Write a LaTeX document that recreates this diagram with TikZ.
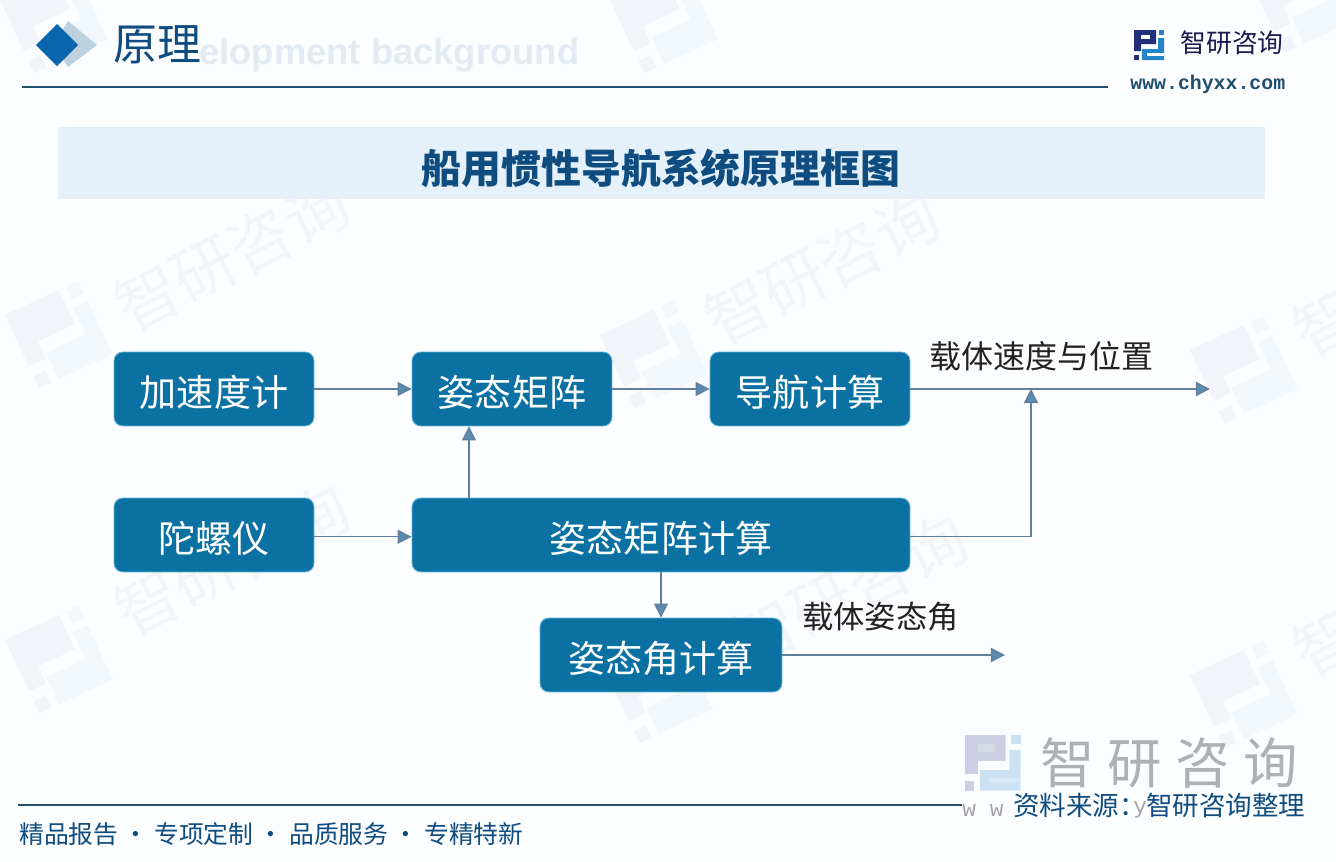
\documentclass[tikz,border=0pt]{standalone}
\usepackage{fontspec}
\setmainfont{Noto Sans CJK SC}
\newfontfamily\urlfont{Liberation Mono}
\newfontfamily\ghostfont{Liberation Sans}
\usetikzlibrary{arrows.meta,positioning,calc}
\definecolor{boxblue}{HTML}{0B71A3}
\definecolor{boxedge}{HTML}{5FB4D8}
\definecolor{linkblue}{HTML}{5F7F9F}
\definecolor{headblue}{HTML}{5B8CB0}
\definecolor{rulenavy}{HTML}{1F4F6E}
\definecolor{titlenavy}{HTML}{0F4C7F}
\definecolor{bandblue}{HTML}{E4F1FA}
\definecolor{pagetint}{HTML}{FCFDFF}
\definecolor{markdark}{HTML}{1F2F7A}
\definecolor{marklight}{HTML}{2385C8}
\definecolor{darktext}{HTML}{222222}
\tikzset{
  blockbox/.style={draw=boxedge, line width=0.5pt, fill=boxblue, rounded corners=5pt, text=white,
    minimum height=42.1pt, inner sep=0pt, text height=20pt, text depth=0.6pt, font=\fontsize{21.1}{21}\selectfont},
  freelabel/.style={text=darktext, inner sep=0pt, font=\fontsize{18.2}{18}\selectfont},
  link/.style={draw=linkblue, line width=0.8pt, -{Triangle[length=8pt,width=8pt,fill=headblue]}},
  wmtext/.style={text=markdark, opacity=0.04, inner sep=0pt, rotate=27, font=\fontsize{36}{36}\selectfont},
  brandmark/.pic={
    \fill[markdark] (0,0) -- (22,0) -- (22,14) -- (7,14) -- (7,21) -- (0,21) -- cycle;
    \fill[white] (7,5) rectangle (16,9);
    \fill[markdark] (0,25) rectangle (5,30);
    \fill[marklight] (25,0) rectangle (30,5);
    \fill[marklight] (24,8) -- (30,8) -- (30,30) -- (8,30) -- (8,19) -- (24,19) -- cycle;
    \fill[white] (13,23) rectangle (30,26);
  }
}
\begin{document}
\begin{tikzpicture}[x=0.02cm,y=-0.02cm]
\useasboundingbox (0,0) rectangle (1336,862);
\fill[pagetint] (0,0) rectangle (1336,862);

% watermark
\begin{scope}
\clip (0,0) rectangle (1336,862);
\foreach \wx/\wy [count=\wi] in {232/255,822/268,232/560,850/590,1410/280,1410/600} {
  \node[wmtext] (wmword\wi) at (\wx,\wy) {智研咨询};
}
\foreach \wx/\wy in {0/0,610/0,1250/-20,5/315,600/335,1190/350,5/640,605/670,1190/675} {
  \pic[opacity=0.045, rotate=25, scale=2.7] at (\wx,\wy) {brandmark};
}
\end{scope}

% header
\node[text=titlenavy, opacity=0.1, inner sep=0pt, anchor=west, font=\ghostfont\bfseries\fontsize{20.7}{21}\selectfont] (ghost) at (199,55) {elopment background};
\fill[headblue!40] (68,21) -- (97,45) -- (68,67) -- (53,45) -- cycle;
\fill[boxblue!90!blue] (57,24) -- (78,45) -- (57,66) -- (36,45) -- cycle;
\node[text=titlenavy, inner sep=0pt, anchor=west, font=\fontsize{25}{25}\selectfont] (heading) at (113,45) {原理};
\coordinate (ruleA) at (22,87);
\coordinate (ruleB) at (1108,87);
\draw[rulenavy, line width=0.8pt] (ruleA) -- (ruleB);
\pic at (1134,30) {brandmark};
\node[text=darktext!80!blue, inner sep=0pt, anchor=west, font=\fontsize{14.7}{15}\selectfont] (brandname) at (1180,43) {智研咨询};
\node[text=rulenavy, inner sep=0pt, anchor=west, font=\urlfont\bfseries\fontsize{11.3}{12}\selectfont] (brandurl) at (1130,84) {www.chyxx.com};

% title band
\node[fill=bandblue, minimum width=687pt, minimum height=41pt, inner sep=0pt] (band) at (661.5,163) {};
\node[text=titlenavy, inner sep=0pt, font=\bfseries\fontsize{22.7}{23}\selectfont] (title) at (661,168) {船用惯性导航系统原理框图};

% blocks
\node[blockbox, minimum width=113.8pt] (accel) at (214,389) {加速度计};
\node[blockbox, minimum width=113.8pt] (attmat) at (512,389) {姿态矩阵};
\node[blockbox, minimum width=113.8pt] (navcalc) at (810,389) {导航计算};
\node[blockbox, minimum width=113.8pt] (gyro) at (214,535) {陀螺仪};
\node[blockbox, minimum width=283.4pt] (matcalc) at (661,535) {姿态矩阵计算};
\node[blockbox, minimum width=137.7pt] (anglecalc) at (661,655) {姿态角计算};
\coordinate (velend) at (1210,389);
\coordinate (angend) at (1005,655);
\coordinate (velmerge) at (1031,389);

% connectors
\draw[link] (accel) -- (attmat);
\draw[link] (attmat) -- (navcalc);
\draw[link] (navcalc) -- (velend);
\draw[link] ([yshift=-1pt]gyro.east) -- ([yshift=-1pt]matcalc.west);
\draw[link] (matcalc.north -| 469,0) -- (attmat.south -| 469,0);
\draw[link] ([yshift=-1pt]matcalc.east) -| (velmerge);
\draw[link] (matcalc) -- (anglecalc);
\draw[link] (anglecalc) -- (angend);

% labels
\node[freelabel, anchor=west] (vellabel) at (929,356) {载体速度与位置};
\node[freelabel, anchor=west, font=\fontsize{17.8}{18}\selectfont] (anglabel) at (802,617) {载体姿态角};

% footer
\pic[opacity=0.22, scale=1.85] at (965,735) {brandmark};
\node[text=black, opacity=0.3, inner sep=0pt, anchor=west, font=\fontsize{31}{31}\selectfont] (wmfoot) at (1040,763) {智\hspace{7.5pt}研\hspace{7.5pt}咨\hspace{7.5pt}询};
\coordinate (footA) at (18,805);
\coordinate (footB) at (962,805);
\draw[rulenavy, line width=1pt] (footA) -- (footB);
\node[text=black, opacity=0.35, inner sep=0pt, anchor=west, font=\urlfont\fontsize{13}{13}\selectfont] (footurl) at (962,810) {w w};
\node[text=black, opacity=0.35, inner sep=0pt, anchor=west, font=\urlfont\fontsize{13}{13}\selectfont] (footurlb) at (1133,810) {y};
\node[text=titlenavy, inner sep=0pt, anchor=west, font=\fontsize{15.1}{15}\selectfont] (source) at (1013,806) {资料来源：智研咨询整理};
\node[text=titlenavy, inner sep=0pt, anchor=west, font=\fontsize{14.1}{14}\selectfont] (slogan) at (19,834) {精品报告 · 专项定制 · 品质服务 · 专精特新};
\end{tikzpicture}
\end{document}
